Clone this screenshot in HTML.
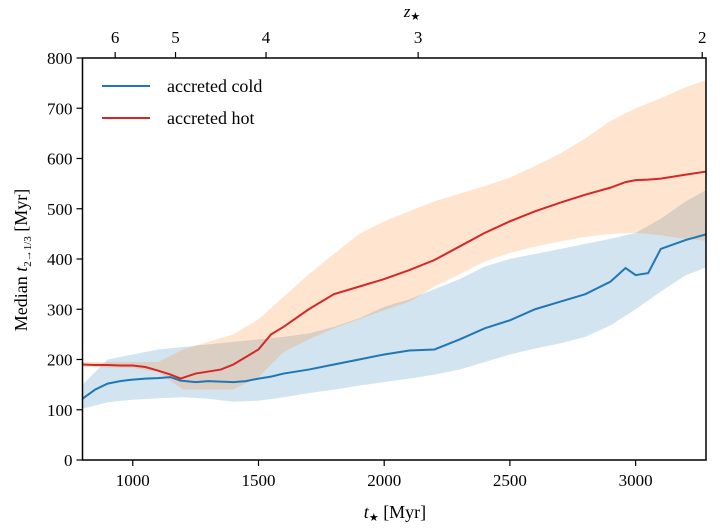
<!DOCTYPE html>
<html><head><meta charset="utf-8"><style>
body{margin:0;background:#fff}
svg text{font-family:"Liberation Serif",serif;fill:#000}
</style></head><body>
<svg id="c" width="720" height="525" viewBox="0 0 720 525"></svg>
<script>
const tX=[800,850,900,950,1000,1050,1100,1150,1190,1250,1300,1350,1400,1450,1500,1550,1600,1700,1800,1900,2000,2100,2200,2300,2400,2500,2600,2700,2800,2900,2960,3000,3050,3100,3200,3280];
const coldMed=[122,140,152,157,160,162,163,165,158,155,157,156,155,157,162,166,172,180,190,200,210,218,220,240,262,278,300,315,330,355,382,368,372,420,438,449];
const hotMed=[190,189,189,188,188,185,178,170,162,172,176,180,190,205,220,250,265,300,330,345,360,378,398,425,452,475,495,512,528,542,553,557,558,560,568,574];
const bandX=[800,900,1000,1100,1200,1300,1400,1500,1600,1700,1800,1900,2000,2100,2200,2300,2400,2500,2600,2700,2800,2900,3000,3100,3200,3280];
const hotUp=[195,195,195,195,220,235,250,280,325,370,410,450,475,495,515,530,545,562,585,610,640,675,700,720,742,756];
const hotLo=[185,184,183,175,140,140,140,165,215,240,262,280,298,315,345,370,395,412,425,435,444,450,452,447,440,436];
const coldUp=[150,200,210,220,225,230,235,240,245,252,265,282,305,320,340,360,385,400,410,420,430,440,452,480,515,537];
const coldLo=[102,115,120,123,125,122,116,118,125,133,140,148,155,162,170,180,195,210,222,232,245,268,300,335,368,383];
const yTicks=[0,100,200,300,400,500,600,700,800];
const xTicks=[1000,1500,2000,2500,3000];
const zTicks=[{z:"6",t:930},{z:"5",t:1170},{z:"4",t:1530},{z:"3",t:2135},{z:"2",t:3265}];
const L=82.5,R=706,T=58,B=460,X0=800,X1=3280,Y0=0,Y1=800;
const sx=v=>L+(v-X0)/(X1-X0)*(R-L), sy=v=>B-(v-Y0)/(Y1-Y0)*(B-T);
const svg=document.getElementById('c'),NS='http://www.w3.org/2000/svg';
function mk(tag,attrs,parent){const e=document.createElementNS(NS,tag);for(const k in attrs)e.setAttribute(k,attrs[k]);(parent||svg).appendChild(e);return e;}
function band(xs,up,lo,col,name){let d='M'+xs.map((x,i)=>sx(x)+','+sy(up[i])).join('L');for(let i=xs.length-1;i>=0;i--)d+='L'+sx(xs[i])+','+sy(lo[i]);d+='Z';const p=mk('path',{d:d,fill:col,'fill-opacity':0.2});

}
function line(xs,ys,col,name){const p=mk('path',{d:'M'+xs.map((x,i)=>sx(x)+','+sy(ys[i])).join('L'),fill:'none',stroke:col,'stroke-width':2});

}
band(bandX,coldUp,coldLo,'#1f77b4','cold-band');
band(bandX,hotUp,hotLo,'#ff7f0e','hot-band');
line(tX,coldMed,'#1f77b4','cold-median-line');
line(tX,hotMed,'#d62728','hot-median-line');
const fr=mk('rect',{x:L,y:T,width:R-L,height:B-T,fill:'none',stroke:'#000','stroke-width':1.5});


yTicks.forEach(v=>{mk('line',{x1:L-6,x2:L,y1:sy(v),y2:sy(v),stroke:'#000','stroke-width':1.2});const t=mk('text',{x:L-10,y:sy(v)+6,'text-anchor':'end','font-size':17});t.textContent=v;

});
xTicks.forEach(v=>{mk('line',{x1:sx(v),x2:sx(v),y1:B,y2:B+6,stroke:'#000','stroke-width':1.2});const t=mk('text',{x:sx(v),y:B+26,'text-anchor':'middle','font-size':17});t.textContent=v;

});
zTicks.forEach(o=>{mk('line',{x1:sx(o.t),x2:sx(o.t),y1:T,y2:T-6,stroke:'#000','stroke-width':1.2});const t=mk('text',{x:sx(o.t),y:T-15,'text-anchor':'middle','font-size':17});t.textContent=o.z;

});
</script>
<svg width="720" height="525" style="position:absolute;left:0;top:0">
<text x="395" y="518" text-anchor="middle" font-size="18"><tspan font-style="italic">t</tspan><tspan font-size="11" dy="3">★</tspan><tspan dy="-3">  [Myr]</tspan></text>
<text x="412" y="17" text-anchor="middle" font-size="17"><tspan font-style="italic">z</tspan><tspan font-size="11" dy="3">★</tspan></text>
<text transform="translate(27,260) rotate(-90)" text-anchor="middle" font-size="18">Median <tspan font-style="italic">t</tspan><tspan font-size="11" dy="4">2→1/3</tspan><tspan dy="-4"> [Myr]</tspan></text>
<g>
<line x1="102" y1="86" x2="150" y2="86" stroke="#1f77b4" stroke-width="2"/>
<text x="167" y="92" font-size="18">accreted cold</text>
<line x1="102" y1="118" x2="150" y2="118" stroke="#d62728" stroke-width="2"/>
<text x="167" y="124" font-size="18">accreted hot</text>
</g>
</svg>
</body></html>
